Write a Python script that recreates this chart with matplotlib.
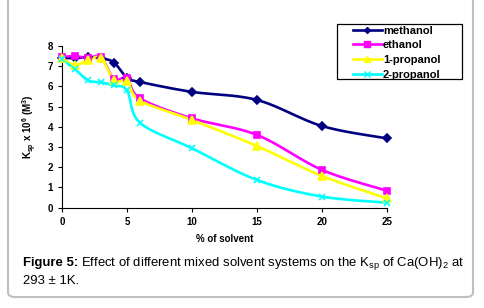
import matplotlib
matplotlib.use("Agg")
import matplotlib.pyplot as plt
from matplotlib.patches import FancyBboxPatch, Rectangle
import numpy as np

plt.rcParams['font.family'] = ['Liberation Sans', 'DejaVu Sans']
plt.rcParams['mathtext.default'] = 'regular'

# data
solvent_pct = [0, 1, 2, 3, 4, 5, 6, 10, 15, 20, 25]
methanol = [7.4, 7.4, 7.45, 7.4, 7.18, 6.43, 6.22, 5.73, 5.33, 4.04, 3.43]
ethanol = [7.45, 7.5, 7.4, 7.45, 6.35, 6.4, 5.41, 4.42, 3.6, 1.87, 0.84]
propanol_1 = [7.4, 7.05, 7.3, 7.4, 6.3, 6.25, 5.3, 4.34, 3.05, 1.57, 0.46]
propanol_2 = [7.35, 6.85, 6.3, 6.2, 6.05, 5.8, 4.2, 2.94, 1.37, 0.55, 0.25]

series = [
    ("methanol", methanol, "#000080", "D", 4),
    ("ethanol", ethanol, "#FF00FF", "s", 5),
    ("1-propanol", propanol_1, "#FFFF00", "^", 6),
    ("2-propanol", propanol_2, "#00FFFF", "x", 5),
]


def smooth(x, y, n=30):
    # Excel-like smoothed line: cubic bezier through points
    x = np.asarray(x, float)
    y = np.asarray(y, float)
    px, py = [], []
    t = np.linspace(0, 1, n)
    for i in range(len(x) - 1):
        x0, y0 = x[i], y[i]
        x3, y3 = x[i + 1], y[i + 1]
        xa, ya = (x[i - 1], y[i - 1]) if i > 0 else (x0, y0)
        xb, yb = (x[i + 2], y[i + 2]) if i + 2 < len(x) else (x3, y3)
        x1 = x0 + (x3 - xa) / 6
        y1 = y0 + (y3 - ya) / 6
        x2 = x3 - (xb - x0) / 6
        y2 = y3 - (yb - y0) / 6
        bx = (1 - t)**3 * x0 + 3 * (1 - t)**2 * t * x1 + 3 * (1 - t) * t**2 * x2 + t**3 * x3
        by = (1 - t)**3 * y0 + 3 * (1 - t)**2 * t * y1 + 3 * (1 - t) * t**2 * y2 + t**3 * y3
        px.extend(bx)
        py.extend(by)
    return px, py


fig = plt.figure(figsize=(4.84, 3.08), dpi=100)
ax = fig.add_axes([62 / 484, 1 - 207.7 / 308, 325 / 484, 161.7 / 308])

for name, vals, color, marker, ms in series:
    sx, sy = smooth(solvent_pct, vals)
    ax.plot(sx, sy, color=color, lw=1.9, clip_on=False, zorder=3)
    ax.plot(solvent_pct, vals, linestyle="none", marker=marker, color=color,
            markersize=ms, mew=1.2, clip_on=False, zorder=4)
    ax.plot([], [], color=color, lw=1.9, marker=marker, markersize=ms - 1, label=name)

ax.set_xlim(0, 25)
ax.set_ylim(0, 8)
ax.set_xticks([0, 5, 10, 15, 20, 25])
ax.set_yticks(range(0, 9))
ax.spines['top'].set_visible(False)
ax.spines['right'].set_visible(False)
ax.tick_params(labelsize=7, length=3, width=0.8)
ax.tick_params(axis="x", pad=4)
for lab in ax.get_xticklabels() + ax.get_yticklabels():
    lab.set_fontweight("bold")
ax.set_xlabel("% of solvent", fontsize=7, fontweight="bold", labelpad=5)
ax.set_ylabel(r"K$_{sp}$ x 10$^{6}$ (M$^{3}$)", fontsize=7, fontweight="bold", labelpad=6)

# legend: entries without frame, frame drawn separately
leg = ax.legend(loc="upper left", bbox_to_anchor=(353 / 484, 1 - 25.5 / 308),
                bbox_transform=fig.transFigure,
                prop={"size": 8, "weight": "bold"},
                frameon=False, borderpad=0.0, labelspacing=0.42,
                handlelength=2.6, handletextpad=0.1, borderaxespad=0)
ax.add_patch(Rectangle((337 / 484, 1 - 79 / 308), 125 / 484, 55 / 308,
                       transform=fig.transFigure, facecolor="none", clip_on=False,
                       edgecolor="black", lw=0.9, zorder=6))

# caption
fs = 10
cap_y = 1 - 263 / 308
t1 = fig.text(23 / 484, cap_y, "Figure 5:", fontsize=fs, fontweight="bold", va="center")
t2 = fig.text(82 / 484, cap_y, r"Effect of different mixed solvent systems on the K$_{sp}$ of Ca(OH)$_{2}$ at",
              fontsize=fs, va="center")
r = fig.canvas.get_renderer()
w1 = t1.get_window_extent(r)
w2 = t2.get_window_extent(r)
total = w2.x1 - w1.x0
scale = (460 - 23) / total
for t in (t1, t2):
    t.set_fontsize(fs * scale)
w1 = t1.get_window_extent(r)
t2.set_x((w1.x1 + 3) / 484)
fig.text(23 / 484, 1 - 281 / 308, "293 ± 1K.", fontsize=fs * scale, va="center")

# rounded border
box = FancyBboxPatch((8 / 484, 1 - 297 / 308), 465 / 484, 0.2 + 297 / 308,
                     boxstyle="round,pad=0,rounding_size=0.015", transform=fig.transFigure,
                     facecolor="none", edgecolor="#c0c0c0", lw=1.5)
fig.patches.append(box)

fig.savefig("out.png", dpi=100)
